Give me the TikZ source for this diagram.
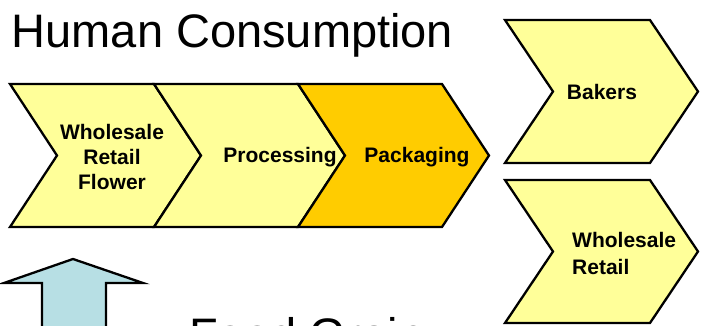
\documentclass[tikz,border=0pt]{standalone}
\usepackage{fontspec}
\setmainfont{Liberation Sans}
\definecolor{paleyellow}{RGB}{255,255,153}
\definecolor{gold}{RGB}{255,204,0}
\definecolor{paleblue}{RGB}{183,223,228}
\tikzset{
  chev/.style={draw=black, line width=2.3pt, line join=miter},
  lbl/.style={font=\fontsize{21}{25}\selectfont\bfseries, inner sep=0pt, align=center},
  big/.style={font=\fontsize{47}{50}\selectfont, inner sep=0pt, anchor=base west}
}
\begin{document}
\begin{tikzpicture}[x=1pt,y=-1pt]
\useasboundingbox (0,0) rectangle (701,325);
\clip (0,0) rectangle (701,325);
% title
\node[big] (title) at (11.5,47) {Human Consumption};
% row of chevrons
\def\top{84}\def\bot{227}\def\mid{155.5}
\draw[chev, fill=paleyellow] (10,\top) -- (154,\top) -- (201,\mid) -- (154,\bot) -- (10,\bot) -- (57,\mid) -- cycle;
\draw[chev, fill=paleyellow] (154,\top) -- (298,\top) -- (345,\mid) -- (298,\bot) -- (154,\bot) -- (201,\mid) -- cycle;
\draw[chev, fill=gold] (298,\top) -- (442,\top) -- (489,\mid) -- (442,\bot) -- (298,\bot) -- (345,\mid) -- cycle;
% right chevrons
\draw[chev, fill=paleyellow] (505,20) -- (650,20) -- (698,91.5) -- (650,163) -- (505,163) -- (553,91.5) -- cycle;
\draw[chev, fill=paleyellow] (505,180) -- (650,180) -- (698,251.5) -- (650,323) -- (505,323) -- (553,251.5) -- cycle;
% labels
\node[lbl] (wrf) at (112,157) {Wholesale\\Retail\\Flower};
\node[lbl] (proc) at (280,157) {Processing};
\node[lbl] (pack) at (417,157) {Packaging};
\node[lbl] (bak) at (602,92) {Bakers};
\node[lbl, align=left, anchor=west, font=\fontsize{21}{27}\selectfont\bfseries] (wr) at (572,253.5) {Wholesale\\Retail};
% up arrow
\draw[chev, fill=paleblue] (73,259) -- (143,283) -- (106,283) -- (106,340) -- (42,340) -- (42,283) -- (4,283) -- cycle;
% bottom text
\node[big] (food) at (189,351) {Food Grain};
\end{tikzpicture}
\end{document}
